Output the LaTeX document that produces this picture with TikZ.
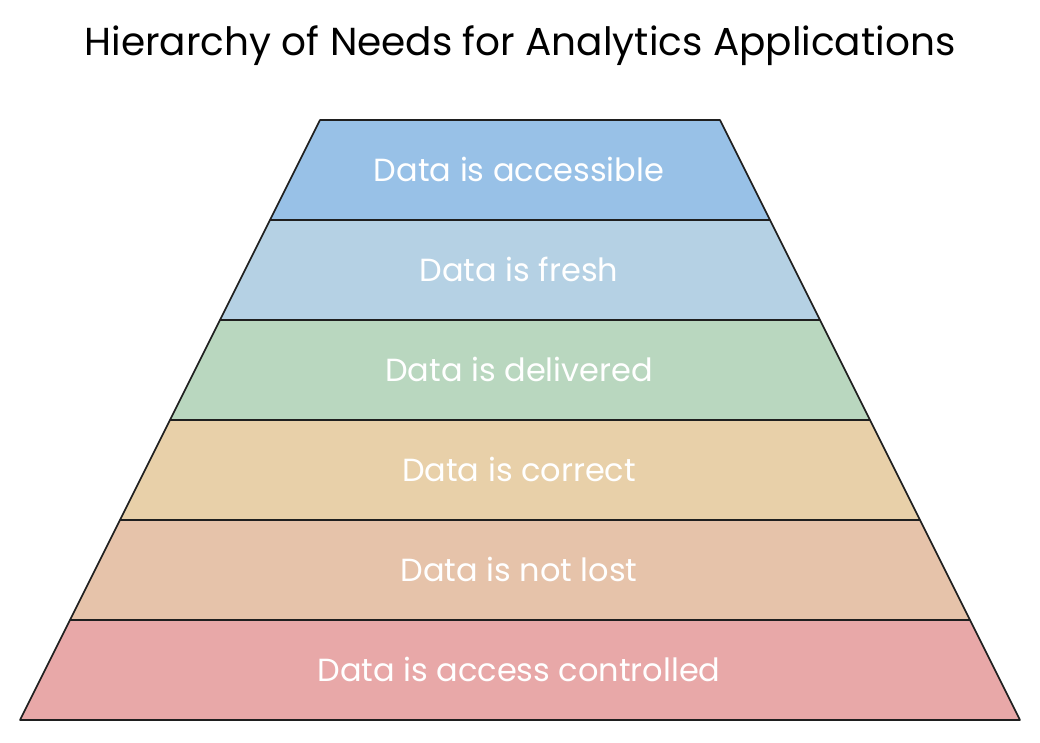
\documentclass[tikz,border=0pt]{standalone}
\usepackage{fontspec}
\setmainfont{Poppins}
\definecolor{cA}{HTML}{98C1E7}
\definecolor{cB}{HTML}{B5D1E4}
\definecolor{cC}{HTML}{B9D7BF}
\definecolor{cD}{HTML}{E8D0A9}
\definecolor{cE}{HTML}{E6C3AA}
\definecolor{cF}{HTML}{E8A8A8}
\tikzset{
  layer/.style={draw=black!88, line width=1.6pt, line join=round},
  layertext/.style={text=white, font=\fontsize{32}{36}\selectfont},
  titletext/.style={text=black, font=\fontsize{39}{44}\selectfont}
}
\begin{document}
\begin{tikzpicture}[x=1pt,y=-1pt]
\useasboundingbox (0,0) rectangle (1040,742);
\node[titletext] (title) at (520,46) {Hierarchy of Needs for Analytics Applications};
\foreach \i/\c/\t [count=\n] in {0/cA/Data is accessible,1/cB/Data is fresh,2/cC/Data is delivered,3/cD/Data is correct,4/cE/Data is not lost,5/cF/Data is access controlled}{
  \pgfmathsetmacro{\yt}{120+100*\i}
  \pgfmathsetmacro{\yb}{\yt+100}
  \pgfmathsetmacro{\xl}{320-50*\i}
  \pgfmathsetmacro{\xr}{720+50*\i}
  \pgfmathsetmacro{\xbl}{\xl-50}
  \pgfmathsetmacro{\xbr}{\xr+50}
  \path[layer, fill=\c] (\xl,\yt) -- (\xr,\yt) -- (\xbr,\yb) -- (\xbl,\yb) -- cycle;
  \node[layertext] (label\n) at (519,\yt+49) {\t};
}
\end{tikzpicture}
\end{document}
